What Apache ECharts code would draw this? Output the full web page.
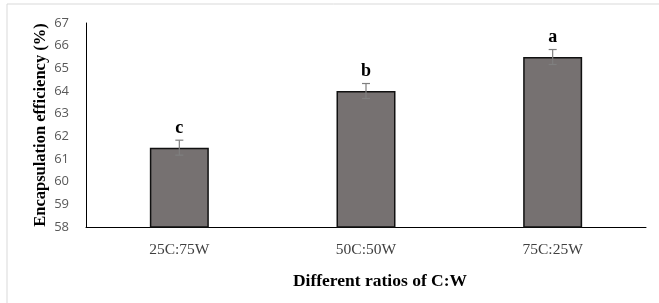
<!DOCTYPE html>
<html>
<head>
<meta charset="utf-8">
<script src="https://cdn.jsdelivr.net/npm/echarts@6/dist/echarts.min.js"></script>
<style>
  html, body { margin: 0; padding: 0; background: #fff; }
  #chart { width: 659px; height: 303px; }
</style>
</head>
<body>
<div id="chart"></div>
<script>
  // data
  var ratios = ['25C:75W', '50C:50W', '75C:25W'];
  var efficiency = [61.5, 64.0, 65.5];
  var errors = [0.33, 0.33, 0.33];
  var letters = ['c', 'b', 'a'];
  var yTicks = [58, 59, 60, 61, 62, 63, 64, 65, 66, 67];

  var chart = echarts.init(document.getElementById('chart'));

  var errData = ratios.map(function (r, i) {
    return [i, efficiency[i] - errors[i], efficiency[i] + errors[i], letters[i]];
  });

  chart.setOption({
    animation: false,
    graphic: [{
      type: 'rect',
      shape: { x: 7, y: 4, width: 670, height: 320 },
      style: { fill: 'none', stroke: '#d9d9d9', lineWidth: 1 },
      silent: true
    }],
    grid: { left: 86, right: 13, top: 23, bottom: 76 },
    xAxis: {
      type: 'category',
      data: ratios,
      name: 'Different ratios of C:W',
      nameLocation: 'middle',
      nameGap: 45,
      nameTextStyle: {
        fontFamily: 'Liberation Serif', fontWeight: 'bold', fontSize: 17.5, color: '#000',
        padding: [0, 0, 0, 28]
      },
      axisLine: { lineStyle: { color: '#000', width: 1 } },
      axisTick: { show: false },
      axisLabel: { fontFamily: 'Liberation Serif', fontSize: 15.5, color: '#404040', margin: 15 }
    },
    yAxis: {
      type: 'value',
      min: yTicks[0],
      max: yTicks[yTicks.length - 1],
      interval: 1,
      name: 'Encapsulation efficiency (%)',
      nameLocation: 'middle',
      nameGap: 37,
      nameMoveOverlap: false,
      nameTextStyle: { fontFamily: 'Liberation Serif', fontWeight: 'bold', fontSize: 16.5, color: '#000' },
      axisLine: { show: true, lineStyle: { color: '#000', width: 1 } },
      axisTick: { show: false },
      splitLine: { show: false },
      axisLabel: { fontFamily: 'Open Sans', fontSize: 13, color: '#595959', margin: 17 }
    },
    series: [{
      type: 'bar',
      data: efficiency,
      barWidth: '31.6%',
      itemStyle: { color: '#767171', borderColor: '#111', borderWidth: 1.5 }
    }, {
      type: 'custom',
      data: errData,
      z: 10,
      renderItem: function (params, api) {
        var x = api.value(0);
        var lo = api.coord([x, api.value(1)]);
        var hi = api.coord([x, api.value(2)]);
        var cap = 4;
        var st = { stroke: '#7f7f7f', lineWidth: 1.2 };
        return {
          type: 'group',
          children: [
            { type: 'line', shape: { x1: hi[0], y1: hi[1], x2: lo[0], y2: lo[1] }, style: st },
            { type: 'line', shape: { x1: hi[0] - cap, y1: hi[1], x2: hi[0] + cap, y2: hi[1] }, style: st },
            { type: 'line', shape: { x1: lo[0] - cap, y1: lo[1], x2: lo[0] + cap, y2: lo[1] }, style: st },
            {
              type: 'text',
              style: {
                x: hi[0], y: hi[1] - 12,
                text: api.value(3),
                align: 'center', verticalAlign: 'middle',
                font: 'bold 18px "Liberation Serif"',
                fill: '#000'
              }
            }
          ]
        };
      }
    }]
  });
</script>
</body>
</html>
